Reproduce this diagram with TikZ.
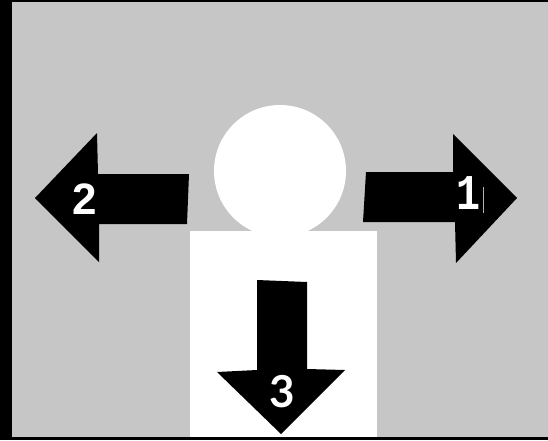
\documentclass[tikz,border=0pt]{standalone}
\usepackage{fontspec}
\usepackage{tikz}
\newfontfamily\numa{Liberation Sans}
\newfontfamily\numb{Liberation Mono}
\newfontfamily\numc{Lato}

\begin{document}
\begin{tikzpicture}[
        x=1pt,y=-1pt,
    every node/.style={text=white,inner sep=0pt,font=\fontsize{44}{44}\selectfont}
]
\definecolor{bgx}{HTML}{C6C6C6}
\colorlet{arx}{black}
    \useasboundingbox (0,0) rectangle (548,440);

    \fill [black] (0,0) rectangle (548,440);
    \fill [bgx] (12,2) rectangle (548,437);
    \fill [white] (190,231) rectangle (377,437);
    \fill [white] (280,171) circle [radius=66];

    \fill [arx] (517,198) -- (456,263) -- (455,222) -- (363,222)
        -- (366,172) -- (453,172) -- (453,134) -- cycle;
    \fill [arx] (35,198) -- (97,133) -- (98,174) -- (189,174)
        -- (187,224) -- (99,224) -- (99,262) -- cycle;
    \fill [arx] (281,434) -- (217,372) -- (257,370) -- (257,280)
        -- (307,282) -- (307,369) -- (345,370) -- cycle;

    \node [xscale=0.8,font=\fontsize{50}{50}\selectfont] (one) at (468,193.5) {\numb\bfseries 1};
    \node (two) at (85,199) {\numa\bfseries 2};
    \node (three) at (282,391.5) {\numc\bfseries 3};

    \draw [white!70!black,line width=0.3pt] (483,187) -- (483,213);
\end{tikzpicture}
\end{document}
